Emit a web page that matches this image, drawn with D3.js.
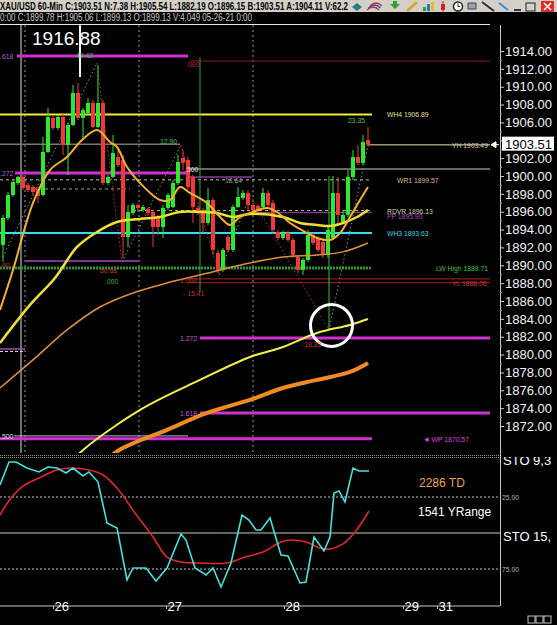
<!DOCTYPE html>
<html><head><meta charset="utf-8">
<script src="https://cdn.jsdelivr.net/npm/d3@7/dist/d3.min.js"></script>
<style>body{margin:0;background:#000;overflow:hidden}svg{display:block;font-family:"Liberation Sans",Arial,sans-serif}</style>
</head><body>
<svg id="c" width="557" height="625"></svg>
<script>
// ---------------- DATA ----------------
const opens = [1892.28,1895.30,1897.87,1899.22,1899.89,1898.99,1898.77,1898.55,1897.87,1902.69,1906.50,1905.38,1906.61,1903.47,1905.71,1909.30,1906.50,1907.06,1908.18,1905.49,1908.18,1899.22,1899.89,1902.13,1901.79,1893.17,1895.86,1896.76,1896.20,1896.31,1895.97,1895.30,1894.29,1896.42,1896.53,1899.22,1902.02,1901.79,1899.89,1896.42,1896.20,1894.74,1897.31,1891.38,1889.48,1893.17,1891.72,1896.53,1897.54,1898.10,1896.76,1896.64,1896.53,1898.10,1896.98,1893.73,1893.06,1893.62,1892.84,1890.93,1889.48,1890.60,1893.40,1893.06,1892.61,1891.16,1893.06,1898.10,1894.85,1895.64,1899.89,1902.13,1901.46,1904.03];
const highs = [1895.64,1898.21,1899.55,1900.00,1900.11,1899.22,1898.99,1898.77,1904.37,1907.62,1906.83,1906.83,1907.06,1905.94,1910.19,1910.42,1907.62,1908.74,1908.51,1912.43,1908.51,1900.11,1904.59,1902.91,1902.35,1896.76,1896.98,1896.98,1896.76,1896.53,1896.20,1895.64,1896.76,1898.10,1899.55,1902.35,1902.91,1902.13,1900.11,1896.76,1896.42,1898.66,1897.54,1891.72,1891.94,1893.40,1896.76,1898.77,1898.43,1898.43,1896.98,1896.87,1898.66,1898.43,1897.31,1893.96,1893.85,1893.85,1893.06,1891.16,1890.82,1893.96,1893.62,1893.29,1892.84,1894.52,1900.00,1899.89,1896.20,1900.67,1902.91,1903.47,1904.59,1905.49];
const lows  = [1890.37,1895.08,1897.65,1898.99,1898.43,1898.21,1897.87,1896.98,1897.76,1902.58,1905.15,1905.15,1902.35,1900.11,1905.60,1906.27,1904.03,1906.83,1905.38,1905.38,1898.99,1898.99,1899.78,1901.01,1890.82,1892.05,1895.64,1895.97,1895.97,1895.52,1892.05,1893.40,1893.06,1896.20,1896.42,1898.99,1900.67,1898.43,1894.74,1895.64,1893.62,1894.52,1891.16,1889.14,1889.25,1891.49,1891.49,1896.42,1897.31,1896.20,1895.97,1895.97,1896.31,1896.53,1893.73,1892.84,1892.84,1892.61,1890.82,1889.14,1888.92,1890.37,1892.28,1891.49,1890.82,1890.82,1892.84,1894.52,1894.63,1895.41,1899.55,1901.23,1901.23,1903.25];
const closes= [1895.30,1897.87,1899.33,1899.89,1898.66,1898.43,1898.21,1897.76,1902.69,1906.61,1905.38,1906.61,1903.47,1905.71,1909.30,1906.50,1907.39,1908.18,1905.49,1908.18,1899.22,1899.89,1902.58,1901.23,1893.17,1895.97,1896.76,1896.42,1896.53,1895.86,1894.29,1894.29,1896.42,1897.87,1899.22,1901.57,1901.46,1898.77,1896.53,1895.86,1894.74,1897.31,1891.72,1889.48,1891.72,1891.72,1896.53,1897.65,1898.10,1896.76,1896.20,1896.20,1898.10,1896.76,1893.96,1893.06,1893.62,1892.84,1891.16,1889.48,1890.60,1893.40,1892.50,1891.72,1891.16,1893.96,1898.10,1895.64,1895.64,1899.89,1902.13,1901.46,1903.81,1903.51];

// moving averages: [bar index, price]
const maFast   = [[-0.6,1885.0],[2,1889.48],[6,1896.98],[9.4,1900.67],[12.8,1902.13],[15.8,1904.03],[18.8,1905.15],[21.4,1903.81],[22.8,1903.25],[24.8,1901.01],[27.4,1899.22],[31.4,1897.31],[33.4,1897.31],[35.4,1898.77],[37.4,1898.10],[40.8,1896.98],[43.4,1895.41],[45.4,1894.52],[47.4,1895.41],[49.4,1895.86],[52.8,1896.42],[54.8,1895.97],[57.4,1894.74],[60.8,1893.62],[62.8,1893.06],[65.4,1892.84],[67.4,1893.62],[69.4,1895.41],[71.4,1897.31],[73,1898.77]];
const maMid    = [[-0.6,1881.3],[5.4,1885.56],[10.4,1888.58],[14.8,1892.05],[18.8,1893.73],[22.8,1894.85],[27.4,1895.19],[31.4,1895.41],[35.4,1895.97],[39.4,1895.97],[42.8,1895.86],[46,1895.41],[49.4,1895.75],[56,1895.41],[59.4,1894.74],[62.8,1894.52],[65.4,1894.40],[68,1894.74],[70.8,1895.41],[73,1896.20]];
const maSlow   = [[-0.6,1876.26],[6,1879.40],[12.8,1882.76],[19.4,1885.33],[26,1886.90],[32.8,1888.02],[39.4,1888.92],[49.4,1890.26],[56,1890.93],[62.8,1891.16],[68,1891.50],[73,1892.50]];
const maLong   = [[12.4,1867.0],[15.4,1869.0],[27.4,1873.8],[39.4,1877.16],[49.4,1879.73],[56,1880.85],[62.8,1882.42],[69.4,1883.32],[73,1883.99]];
const maLonger = [[18.4,1866.5],[22.4,1869.0],[32.8,1871.56],[40.8,1873.46],[49.4,1874.92],[56,1876.26],[62.8,1877.16],[69.4,1878.05],[73,1879.06]];

// horizontal levels
const levelName  = ["f618","f272","f500L","fB000","fB500","fB1000","YL","fB1272","fB1618","WH4","YHleft","YH","WR1","tanDash","RDVR","PP","WH3","purpleLow","LWHigh","WP","purpleShort","smallPurple"];
const levelPrice = [1913.44,1900.34,1870.89,1912.88,1900.79,1888.47,1888.06,1881.86,1873.46,1906.89,1903.55,1903.49,1899.57,1898.55,1896.13,1895.90,1893.63,1890.48,1889.71,1870.57,1899.89,1880.63];
const levelFrom  = [2.8,2.4,2.2,37.4,37.4,36.8,36.8,39.4,39.4,-0.6,-0.6,73,-0.6,6,26,49.4,-0.6,4.4,-0.6,-0.6,36.8,-0.6];
const levelTo    = [37,37.4,37,97.4,97.4,97.4,97.4,97.4,97.4,73.8,35.4,97.4,73.8,25.4,73.8,73.8,73.8,27.4,73.8,73.8,49.8,4.4];

// right-hand level labels
const rLabelText  = ["WH4 1906.89","YH 1903.49","WR1 1899.57","RDVR 1896.13","PP 1895.90","WH3 1893.63","LW High 1889.71","YL 1888.06","\u25C4  WP 1870.57"];
const rLabelPrice = [1906.89,1903.49,1899.57,1896.13,1895.55,1893.63,1889.71,1888.06,1870.57];
const rLabelBar   = [76.8,89.8,78.8,76.8,76.8,76.8,86.6,89.8,84];

// fib labels
const fibText  = [".618",".272",".500",".00",".000",".500","1.000","1.272","1.618"];
const fibPrice = [1913.44,1900.34,1870.89,1890.0,1912.6,1900.79,1888.3,1881.86,1873.46];
const fibBar   = [-0.6,-0.6,-0.6,-0.6,36.6,36.4,35.4,35.4,35.4];

// swing measurements
const measText  = ["49.42","12.90","18.64","23.35","60.68",".000","- 15.41","- 18.33"];
const measPrice = [1913.6,1903.9,1899.5,1906.3,1889.5,1888.2,1886.9,1881.2];
const measBar   = [14.6,31.4,44.4,69,19.4,20.4,36,59.4];

// zigzag pivots
const zigBar   = [0,18.8,23.8,35.6,43.2,49.4,65.2,73];
const zigPrice = [1890.93,1912.66,1890.37,1903.47,1888.92,1897.87,1882.76,1903.47];

// session lines (bar index)
const sessionBars = [4.4,27.2,50];

// stochastic
const stoK = [[-0.6,16.7],[1.2,0.7],[2.6,0.7],[4.8,4.9],[7.2,7.6],[9,4.2],[10.8,4.9],[12.6,8.3],[14,4.9],[16,10.4],[17.2,7.6],[19,14.6],[20.8,43.1],[22.8,46.5],[24.8,82.6],[26,74.3],[28.6,74.3],[30.6,83.3],[32.8,74.3],[35.6,50.7],[36.6,54.9],[38.4,74.3],[40.6,79.2],[42,74.3],[43.6,87.5],[45.6,70.8],[47.8,37.5],[49.2,41.0],[50.6,47.9],[51.6,47.9],[53.4,39.6],[55.6,65.3],[57,66.0],[59.4,84.7],[60.6,84.0],[62.2,52.8],[64.2,62.5],[65.4,52.8],[66.2,22.2],[67.2,20.8],[68.4,28.5],[70,4.9],[71.2,6.9],[73.2,6.9]];
const stoD = [[-0.6,37.5],[1.6,25.7],[4,17.4],[7.2,11.8],[10.8,6.3],[13.6,4.9],[17.2,6.3],[20,9.7],[22.8,18.8],[26.4,36.1],[30,52.8],[32.8,66.7],[35.6,70.1],[39.2,70.8],[44.8,70.8],[48.4,66.7],[52,63.2],[55.6,56.3],[57.6,54.9],[60.6,56.3],[63.4,60.4],[65.4,61.1],[68,57.6],[70.4,49.3],[73.2,34.7]];
const stoLevels = [25,50,75];

// axes
const priceTicks = d3.range(1872,1915,2);
const dayLabels = ["26","27","28","29","31"];
const dayBars   = [10,32.6,56.2,80,86.8];
const lastPrice = 1903.51;
const highMark = 1916.88;

// ---------------- DRAW ----------------
const W=557,H=625;
const svg=d3.select('#c');
const x=d3.scaleLinear().domain([0,73]).range([3,368]);
const y=d3.scaleLinear().domain([1872,1914]).range([426,51]);
const ys=d3.scaleLinear().domain([0,100]).range([461,605]);
const PT=25, PB=453, AX=500;

svg.append('rect').attr('width',W).attr('height',H).attr('fill','#000');
const defs=svg.append('defs');
defs.append('clipPath').attr('id','cm').append('rect').attr('x',0).attr('y',PT).attr('width',AX).attr('height',PB-PT);
defs.append('clipPath').attr('id','cs').append('rect').attr('x',0).attr('y',459).attr('width',AX).attr('height',147);
defs.append('clipPath').attr('id','csr').append('rect').attr('x',AX).attr('y',457).attr('width',60).attr('height',150);

// condensed small label helper
function small(g, t, xx, yy, color, anchor){
  const el=g.append('text').attr('x',xx).attr('y',yy).attr('font-size',8).attr('fill',color)
    .attr('text-anchor',anchor||'start').text(t);
  const L=el.node().getComputedTextLength();
  el.attr('textLength',L*0.85).attr('lengthAdjust','spacingAndGlyphs');
  return el;
}

// header
svg.append('rect').attr('width',W).attr('height',12).attr('fill','#d4d0c8');
svg.append('text').attr('x',0).attr('y',10).attr('font-size',10).attr('font-weight','bold').attr('fill','#000')
  .attr('textLength',348).attr('lengthAdjust','spacingAndGlyphs')
  .text('XAU/USD 60-Min C:1903.51 N:7.38 H:1905.54 L:1882.19 O:1896.15 B:1903.51 A:1904.11 V:62.2');
svg.append('text').attr('x',0).attr('y',21).attr('font-size',10).attr('fill','#c8c8c8')
  .attr('textLength',252).attr('lengthAdjust','spacingAndGlyphs')
  .text('0:00 C:1899.78 H:1905.06 L:1899.13 O:1899.13 V:4,049 05-26-21 0:00');
// toolbar icons
const tb=svg.append('g');
tb.append('path').attr('d','M352,7 l5,-4 l5,4 l-5,4z').attr('fill','#2a7a8a');
[0,1,2].forEach(k=>tb.append('path').attr('d',`M${367+k*1.5},${10-k*2} q6,-6 12,0`).attr('fill','none').attr('stroke',k%2?'#3050c0':'#c03030').attr('stroke-width',1.2));
tb.append('path').attr('d','M390,4 l5,5 l5,-5 l-3,0 l0,-3 l-4,0 l0,3z').attr('fill','#30a030');
tb.append('line').attr('x1',407).attr('y1',11).attr('x2',417).attr('y2',2).attr('stroke','#e0a020').attr('stroke-width',2.5);
[[423,7,'#30a030'],[427,4,'#3070d0'],[431,2,'#e0c020']].forEach(d=>tb.append('rect').attr('x',d[0]).attr('y',d[1]).attr('width',3).attr('height',11-d[1]).attr('fill',d[2]));
tb.append('line').attr('x1',443).attr('x2',443).attr('y1',1).attr('y2',12).attr('stroke','#c02020');
tb.append('rect').attr('x',441).attr('y',4).attr('width',4).attr('height',6).attr('fill','#d02020');
tb.append('circle').attr('cx',458).attr('cy',6.5).attr('r',4.5).attr('fill','#fff').attr('stroke','#202020').attr('stroke-width',1.5);
tb.append('path').attr('d','M458,3.5 v3 h2').attr('stroke','#202020').attr('fill','none');
tb.append('path').attr('d','M468,3 h8 v6 h-8z').attr('fill','#9aa0b0').attr('stroke','#404060');
tb.append('line').attr('x1',482).attr('y1',2).attr('x2',494).attr('y2',11).attr('stroke','#303030').attr('stroke-width',2);
tb.append('line').attr('x1',499).attr('y1',3).attr('x2',508).attr('y2',10).attr('stroke','#3090d0').attr('stroke-width',2);
tb.append('line').attr('x1',514).attr('y1',10).attr('x2',521).attr('y2',10).attr('stroke','#000').attr('stroke-width',1.5);
tb.append('rect').attr('x',526).attr('y',3).attr('width',9).attr('height',8).attr('fill','none').attr('stroke','#202020');
tb.append('rect').attr('x',541).attr('y',1).attr('width',13).attr('height',11).attr('fill','#d83020');
tb.append('path').attr('d','M544,3 l7,7 M551,3 l-7,7').attr('stroke','#fff').attr('stroke-width',1.6);

// frame lines
svg.append('line').attr('x1',0).attr('x2',490).attr('y1',24.5).attr('y2',24.5).attr('stroke','#e8e8e8');
svg.append('line').attr('x1',AX+0.5).attr('x2',AX+0.5).attr('y1',25).attr('y2',606).attr('stroke','#c8c8c8');

// main plot
const gm=svg.append('g').attr('clip-path','url(#cm)');
gm.selectAll('.sess').data(sessionBars).join('line')
  .attr('x1',d=>x(d)).attr('x2',d=>x(d)).attr('y1',PT).attr('y2',PB)
  .attr('stroke','#9a9a9a').attr('stroke-dasharray','2,3');
gm.append('line').attr('x1',x(3.6)).attr('x2',x(3.6)).attr('y1',PT).attr('y2',PB).attr('stroke','#dcdcdc');

// level lines
const levStyle={
  f618:['#d030d0',3,null], f272:['#d030d0',3,null], f500L:['#c8b4e0',1,null],
  fB000:['#8a1a1a',1.2,null], fB500:['#8a8a8a',1.5,null], fB1000:['#8a1a1a',1.2,null], YL:['#8a1a1a',1.2,null],
  fB1272:['#d030d0',3,null], fB1618:['#d030d0',3,null], WH4:['#f2ee40',2,null], YHleft:['#7a7a62',1.5,null], YH:['#a09478',1.5,null],
  WR1:['#c8c0a0',1,'3,3'], tanDash:['#b0a070',1,'3,3'], RDVR:['#c8b890',1,'3,3'], PP:['#9040a8',1,null],
  WH3:['#38dcf0',2,null], purpleLow:['#7a3890',2,null], LWHigh:['#2a9a2a',3,'2,1'], WP:['#d030d0',3,null],
  purpleShort:['#8a3aa0',1.5,null], smallPurple:['#9a50b8',1.5,null]
};
levelName.forEach((n,i)=>{
  const s=levStyle[n];
  const l=gm.append('line').attr('x1',x(levelFrom[i])).attr('x2',x(levelTo[i]))
    .attr('y1',y(levelPrice[i])).attr('y2',y(levelPrice[i])).attr('stroke',s[0]).attr('stroke-width',s[1]);
  if(s[2]) l.attr('stroke-dasharray',s[2]);
});
gm.append('line').attr('x1',x(-0.6)).attr('x2',x(4.4)).attr('y1',y(1880.63)+2.5).attr('y2',y(1880.63)+2.5)
  .attr('stroke','#e0e0e0').attr('stroke-dasharray','3,2');

// vertical markers
gm.append('line').attr('x1',x(39.4)).attr('x2',x(39.4)).attr('y1',y(1913.3)).attr('y2',y(1887.0)).attr('stroke','#3aa03a');
gm.append('line').attr('x1',x(65.2)).attr('x2',x(65.2)).attr('y1',y(1900.0)).attr('y2',y(1882.76)).attr('stroke','#3ac03a');

// zigzag
for(let k=0;k<zigBar.length-1;k++){
  const up=zigPrice[k+1]>zigPrice[k];
  gm.append('line').attr('x1',x(zigBar[k])).attr('y1',y(zigPrice[k])).attr('x2',x(zigBar[k+1])).attr('y2',y(zigPrice[k+1]))
    .attr('stroke',up?'#7a9a78':'#b83a3a').attr('stroke-width',1).attr('stroke-dasharray','1.5,2.5');
}

// candles
const idx=d3.range(opens.length);
const col=i=>closes[i]>=opens[i]?'#2ee82e':'#f03a3a';
gm.selectAll('.wick').data(idx).join('line')
  .attr('x1',i=>x(i)).attr('x2',i=>x(i)).attr('y1',i=>y(highs[i])).attr('y2',i=>y(lows[i])).attr('stroke',col);
gm.selectAll('.body').data(idx).join('rect')
  .attr('x',i=>x(i)-2).attr('width',4)
  .attr('y',i=>y(Math.max(opens[i],closes[i])))
  .attr('height',i=>Math.max(1,y(Math.min(opens[i],closes[i]))-y(Math.max(opens[i],closes[i]))))
  .attr('fill',col);
gm.append('line').attr('x1',x(15.4)).attr('x2',x(15.4)).attr('y1',y(highMark)).attr('y2',y(1911.1)).attr('stroke','#f4f4e8').attr('stroke-width',2);

// moving averages
const ln=d3.line().x(d=>x(d[0])).y(d=>y(d[1])).curve(d3.curveCatmullRom);
[[maLonger,'#f08a24',4],[maLong,'#f4f048',2],[maSlow,'#e0903c',1.5],[maMid,'#f0e030',2.5],[maFast,'#f5b030',2]].forEach(m=>{
  gm.append('path').attr('d',ln(m[0])).attr('fill','none').attr('stroke',m[1]).attr('stroke-width',m[2]);
});

gm.append('circle').attr('cx',x(65.7)).attr('cy',y(1883.26)).attr('r',21).attr('fill','none').attr('stroke','#fff').attr('stroke-width',3);

// labels
const fibCol=['#b860c8','#b860c8','#e0e0e0','#c04040','#c03030','#e8e8e8','#d03030','#c060d0','#c060d0'];
fibText.forEach((t,i)=>small(gm,t,x(fibBar[i]),y(fibPrice[i])+3,fibCol[i]));
const measCol=['#50c050','#50c050','#80a080','#50c050','#c04030','#40b040','#d03030','#d03030'];
measText.forEach((t,i)=>small(gm,t,x(measBar[i]),y(measPrice[i])+3,measCol[i]));
const rCol=['#e8e0a0','#d8d0b0','#d8b888','#d8c8a0','#b050c0','#40d8e8','#40c040','#d03030','#e040e0'];
rLabelText.forEach((t,i)=>small(gm,t,x(rLabelBar[i]),y(rLabelPrice[i])+3,rCol[i]));
svg.append('text').attr('x',32).attr('y',45).attr('font-size',19).attr('fill','#fff').text(highMark.toFixed(2));

// price axis
const ax=svg.append('g').attr('transform',`translate(${AX},0)`)
  .call(d3.axisRight(y).tickValues(priceTicks).tickFormat(d=>Math.abs(d-lastPrice)<1.5?'':d3.format('.2f')(d)).tickSize(4).tickPadding(1));
ax.select('.domain').remove();
ax.selectAll('line').attr('stroke','#d0d0d0');
ax.selectAll('text').attr('fill','#f2f2f2').attr('font-size',13).attr('font-family','"Liberation Sans",Arial,sans-serif');
const ax2=svg.append('g').attr('transform',`translate(${AX},0)`)
  .call(d3.axisRight(y).tickValues(d3.range(1873,1914,2)).tickFormat('').tickSize(2));
ax2.select('.domain').remove(); ax2.selectAll('line').attr('stroke','#a0a0a0');
// last price box
svg.append('rect').attr('x',502).attr('y',y(lastPrice)-8).attr('width',52).attr('height',14).attr('fill','#fff');
svg.append('text').attr('x',505).attr('y',y(lastPrice)+4.5).attr('font-size',13).attr('fill','#000').text(lastPrice.toFixed(2));
svg.append('path').attr('d',`M${AX-9},${y(lastPrice)} l5,-3 v6z M${AX-5},${y(lastPrice)} h4`).attr('fill','#fff').attr('stroke','#fff');

// separator
[455.5,457.5].forEach(v=>svg.append('line').attr('x1',0).attr('x2',AX).attr('y1',v).attr('y2',v).attr('stroke','#8a9478').attr('stroke-dasharray','1,1'));

// stochastic panel
const gs=svg.append('g').attr('clip-path','url(#cs)');
stoLevels.forEach(v=>{
  gs.append('line').attr('x1',0).attr('x2',AX).attr('y1',ys(v)).attr('y2',ys(v))
    .attr('stroke',v===50?'#c8ccb0':'#c8c8c8').attr('stroke-dasharray',v===50?null:'2,2');
});
gs.append('path').attr('d',d3.line().x(d=>x(d[0])).y(d=>ys(d[1])).curve(d3.curveCatmullRom)(stoD)).attr('fill','none').attr('stroke','#e02828').attr('stroke-width',1.6);
gs.append('path').attr('d',d3.line().x(d=>x(d[0])).y(d=>ys(d[1]))(stoK)).attr('fill','none').attr('stroke','#48e0e0').attr('stroke-width',1.6);
svg.append('text').attr('x',419).attr('y',487).attr('font-size',12).attr('fill','#f0a050').text('2286 TD');
svg.append('text').attr('x',418).attr('y',516).attr('font-size',12).attr('fill','#fff').text('1541 YRange');
const gsr=svg.append('g').attr('clip-path','url(#csr)');
gsr.append('text').attr('x',503).attr('y',465).attr('font-size',13).attr('fill','#fff').text('STO  9,3');
svg.append('text').attr('x',503).attr('y',541).attr('font-size',13).attr('fill','#fff').text('STO  15,');
[25,75].forEach(v=>small(svg,v.toFixed(2),502,ys(v)+3,'#b8b8b8'));

// x axis
svg.append('line').attr('x1',0).attr('x2',AX).attr('y1',606).attr('y2',606).attr('stroke','#c8c8c8');
const xa=svg.append('g').attr('transform','translate(0,606)')
  .call(d3.axisBottom(x).tickValues(dayBars).tickFormat((d,i)=>dayLabels[i]).tickSize(3).tickPadding(1));
xa.select('.domain').remove();
xa.selectAll('line').attr('stroke','#c8c8c8');
xa.selectAll('text').attr('fill','#fff').attr('font-size',13).attr('text-anchor','start').attr('dx',1).attr('dy','0.1em')
  .attr('font-family','"Liberation Sans",Arial,sans-serif');
[528,536,544].forEach(v=>svg.append('rect').attr('x',v).attr('y',616).attr('width',7).attr('height',7).attr('fill','none').attr('stroke','#c8c8c8'));
</script>
</body></html>
